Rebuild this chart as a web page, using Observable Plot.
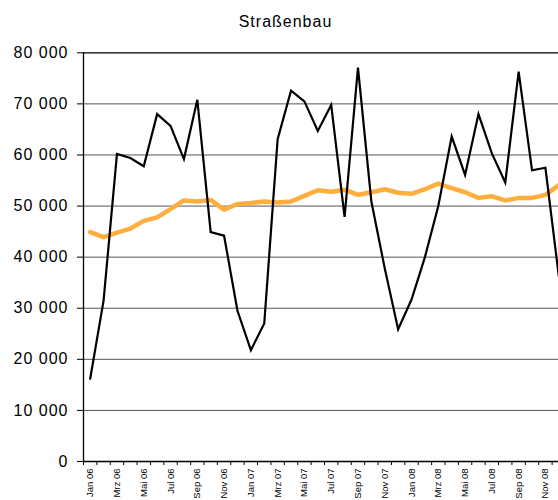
<!DOCTYPE html>
<html><head><meta charset="utf-8">
<script src="https://cdn.jsdelivr.net/npm/d3@7"></script>
<script src="https://cdn.jsdelivr.net/npm/@observablehq/plot@0.6"></script>
<style>
body{margin:0;background:#fff;font-family:"Liberation Sans",Arial,sans-serif;overflow:hidden;}
#title{width:545px;padding-left:13px;height:26px;padding-top:14px;font-size:16px;line-height:16px;text-align:center;letter-spacing:1px;color:#000;}
[aria-label="y-axis tick label"] text{letter-spacing:1px}
</style></head><body>
<div id="title">Straßenbau</div>
<div id="chart"></div>
<script>
const months = ["Jan 06","Feb 06","Mrz 06","Apr 06","Mai 06","Jun 06","Jul 06","Aug 06","Sep 06","Okt 06","Nov 06","Dez 06",
"Jan 07","Feb 07","Mrz 07","Apr 07","Mai 07","Jun 07","Jul 07","Aug 07","Sep 07","Okt 07","Nov 07","Dez 07",
"Jan 08","Feb 08","Mrz 08","Apr 08","Mai 08","Jun 08","Jul 08","Aug 08","Sep 08","Okt 08","Nov 08","Dez 08"];
const values = [16200,31500,60200,59400,57800,68000,65700,59200,70800,44900,44200,29500,
21800,27000,63100,72600,70500,64700,69800,47900,77100,50900,37800,25900,
31700,40000,50000,63600,56100,68000,60300,54600,76300,57000,57500,36300];
const trend = [44900,43900,44800,45600,47100,47800,49400,51100,50900,51200,49300,50400,
50600,50900,50700,50900,52000,53100,52800,53200,52200,52700,53300,52600,
52400,53300,54400,53500,52700,51600,51900,51100,51600,51600,52200,54100];
const yTicks = [0,10000,20000,30000,40000,50000,60000,70000,80000];

const data = months.map((m,i)=>({i, m, value: values[i], trend: trend[i]}));
const fmt = d => d3.format(",")(d).replace(/,/g," ");
const chart = Plot.plot({
  width:558, height:460, marginTop:12, marginBottom:39, marginLeft:83, marginRight:0,
  style:{fontFamily:'"Liberation Sans", Arial, sans-serif', background:"#fff", overflow:"hidden", color:"#000"},
  x:{type:"linear", domain:[-0.5, months.length-0.5], range:[83,565]},
  y:{domain:[0,80000], range:[421,12.3]},
  marks:[
    Plot.ruleY(yTicks.filter(d=>d>0 && d<80000), {stroke:"#555", strokeWidth:1}),
    Plot.ruleY([80000], {stroke:"#000", strokeWidth:1.3}),
    Plot.axisY({ticks:yTicks, tickSize:6, tickPadding:9, tickFormat:fmt, fontSize:16, label:null}),
    Plot.axisX({ticks:d3.range(-0.5, months.length+0.5), tickSize:4, tickFormat:()=>"", label:null}),
    Plot.axisX({ticks:d3.range(0, months.length, 2), tickSize:0, tickPadding:7, tickRotate:-90, tickFormat:i=>months[i], fontSize:9.5, label:null}),
    Plot.ruleY([0], {stroke:"#000", strokeWidth:1.3}),
    Plot.ruleX([-0.5], {stroke:"#000", strokeWidth:1.3}),
    Plot.line(data,{x:"i", y:"trend", stroke:"#fdae3c", strokeWidth:4.5}),
    Plot.line(data,{x:"i", y:"value", stroke:"#000", strokeWidth:2.2, strokeLinejoin:"miter", strokeMiterlimit:6})
  ]
});
document.getElementById("chart").appendChild(chart);
</script>
</body></html>
